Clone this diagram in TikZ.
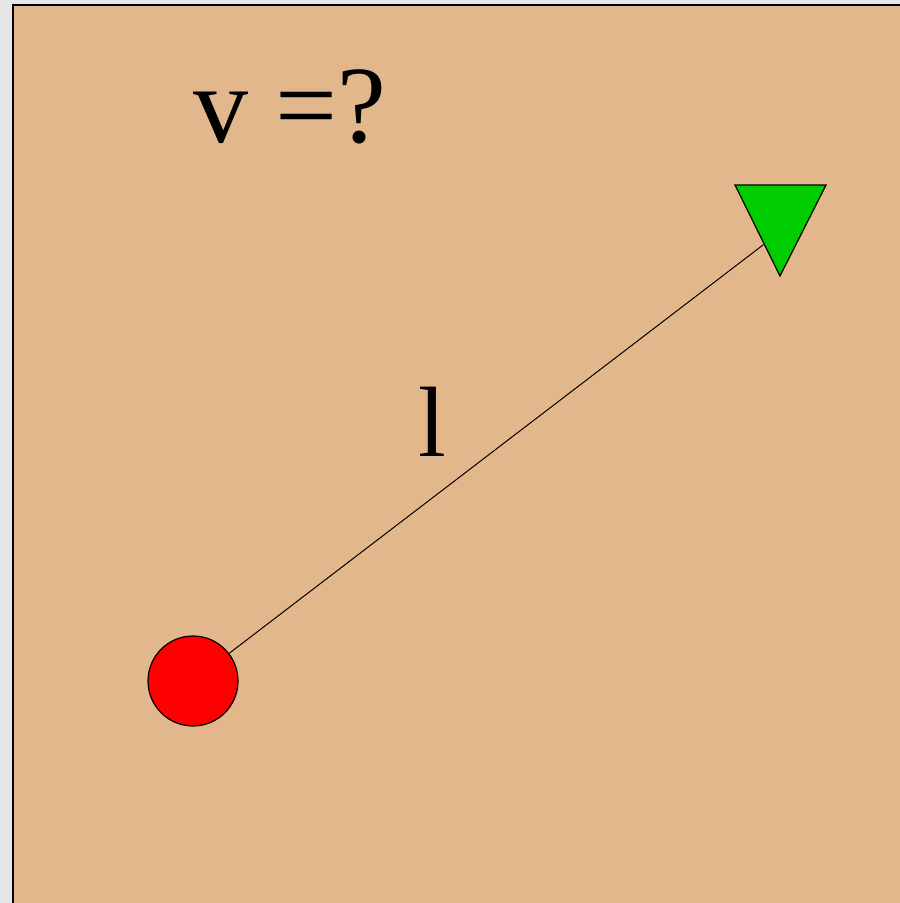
\documentclass[tikz,border=0pt]{standalone}
\usepackage{fontspec}
\setmainfont{Liberation Serif}
\definecolor{outergray}{HTML}{E6E6E6}
\definecolor{tan}{HTML}{E2B78C}
\definecolor{tgreen}{HTML}{00CC00}
\begin{document}
\begin{tikzpicture}[x=1pt,y=-1pt,
  ball/.style={circle,draw=black,fill=red,line width=1.2pt,minimum size=90pt,inner sep=0pt},
  bigtext/.style={font=\fontsize{110}{120}\selectfont,inner sep=0pt,anchor=base west},
  labeltext/.style={font=\fontsize{100}{110}\selectfont,inner sep=0pt,anchor=base west},
  link/.style={draw=black,line width=1pt}]
\useasboundingbox (0,0) rectangle (900,903);
\fill[outergray] (0,0) rectangle (900,903);
\fill[tan] (13,5) rectangle (905,910);
\draw[line width=2pt] (13,910) -- (13,5) -- (905,5);
\node[bigtext] (v) at (193,142) {v =?};
\node[labeltext] (l) at (418,456) {l};
\node[ball] (c) at (193,681) {};
\coordinate (e) at (763.5,244.6);
\draw[link] (c) -- (e);
\draw[fill=tgreen,line width=1.2pt,line join=miter] (735,185) -- (826,185) -- (780,276) -- cycle;
\end{tikzpicture}
\end{document}
